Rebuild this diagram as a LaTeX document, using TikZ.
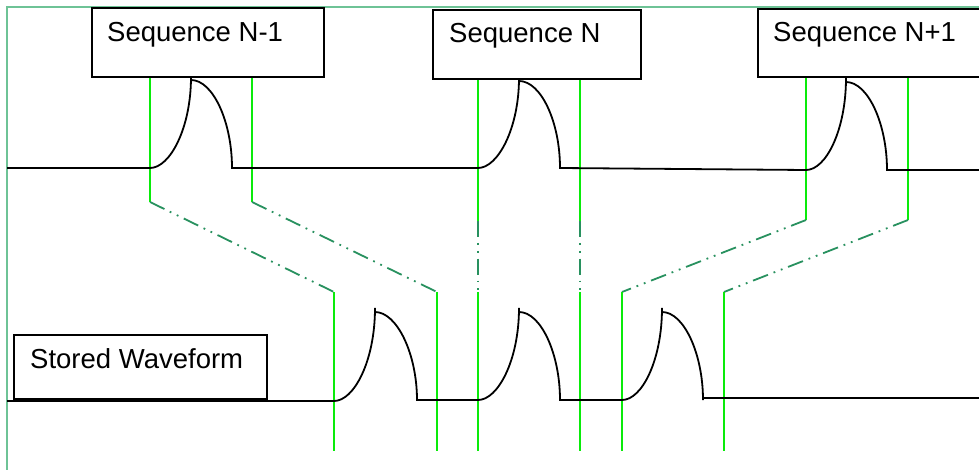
\documentclass[tikz,border=0pt]{standalone}
\usepackage{fontspec}
\setmainfont{Liberation Sans}
\definecolor{sig}{RGB}{10,235,10}
\definecolor{linkc}{RGB}{40,145,95}
\definecolor{framec}{RGB}{110,195,150}
\begin{document}
\begin{tikzpicture}[x=1pt,y=-1pt,
  box/.style={draw=black, line width=1.8pt, fill=white, anchor=north west, inner sep=0pt},
  lbl/.style={anchor=base west, inner sep=0pt, font=\fontsize{27.5}{33}\selectfont},
  wave/.style={draw=black, line width=1.8pt, line join=miter},
  gline/.style={draw=sig, line width=1.8pt},
  dline/.style={draw=linkc, line width=1.8pt, dash pattern=on 16pt off 6pt on 1.8pt off 6pt on 1.8pt off 6pt}]
\useasboundingbox (0,0) rectangle (979,470);
\clip (0,0) rectangle (979,470);
\fill[white] (0,0) rectangle (979,470);
% frame
\draw[framec, line width=1.3pt] (7,480) -- (7,7) -- (990,7);

% coordinates of the green tracks
\coordinate (a1) at (150,76);  \coordinate (a2) at (150,202); \coordinate (a3) at (334,292); \coordinate (a4) at (334,451);
\coordinate (b1) at (252,76);  \coordinate (b2) at (252,202); \coordinate (b3) at (437,292); \coordinate (b4) at (437,451);
\coordinate (c1) at (478,78);  \coordinate (c2) at (478,221); \coordinate (c3) at (478,292); \coordinate (c4) at (478,451);
\coordinate (d1) at (580,78);  \coordinate (d2) at (580,221); \coordinate (d3) at (580,292); \coordinate (d4) at (580,451);
\coordinate (e1) at (806,76);  \coordinate (e2) at (806,220); \coordinate (e3) at (622,292); \coordinate (e4) at (622,451);
\coordinate (f1) at (908,76);  \coordinate (f2) at (908,220); \coordinate (f3) at (724,292); \coordinate (f4) at (724,451);

\foreach \p in {a,b,c,d,e,f}{
  \draw[gline] (\p1) -- (\p2);
  \draw[dline] (\p2) -- (\p3);
  \draw[gline] (\p3) -- (\p4);
}

% top waveform
\draw[wave] (7,168) -- (150,168)
  .. controls (170,168) and (191,128) .. (191,77) -- (191,80)
  .. controls (213,80) and (232,122) .. (232,168) -- (478,168)
  .. controls (498,168) and (519,128) .. (519,78) -- (519,81)
  .. controls (541,81) and (560,122) .. (560,168) -- (806,170)
  .. controls (826,170) and (846,130) .. (846,78) -- (846,82)
  .. controls (868,82) and (887,124) .. (887,170) -- (979,170);

% bottom waveform
\draw[wave] (7,401) -- (334,401)
  .. controls (354,401) and (375,361) .. (375,308) -- (375,312)
  .. controls (397,312) and (417,354) .. (417,400) -- (478,400)
  .. controls (498,400) and (519,360) .. (519,308) -- (519,312)
  .. controls (541,312) and (560,354) .. (560,400) -- (622,400)
  .. controls (642,400) and (662,360) .. (662,308) -- (662,312)
  .. controls (684,312) and (703,354) .. (703,400) -- (703,398) -- (979,398);

% boxes
\node[box, minimum width=232pt, minimum height=69pt] (sn1) at (91,7) {};
\node[lbl] (tn1) at (107,42) {Sequence N-1};
\node[box, minimum width=208pt, minimum height=69pt] (sn) at (432,9) {};
\node[lbl] (tn) at (449,43) {Sequence N};
\node[box, minimum width=260pt, minimum height=68pt] (sp1) at (757,8) {};
\node[lbl] (tp1) at (773,42) {Sequence N+1};
\node[box, minimum width=253pt, minimum height=64pt] (sw) at (13,334) {};
\node[lbl] (tsw) at (30,368) {Stored Waveform};
\end{tikzpicture}
\end{document}
